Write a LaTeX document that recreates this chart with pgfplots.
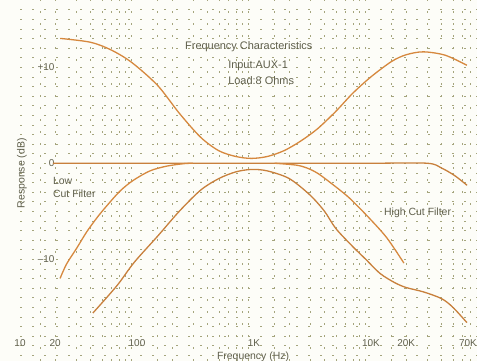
\documentclass[border=0pt]{standalone}
\usepackage{fontspec}
\setmainfont{Liberation Sans}
\usepackage{pgfplots}
\pgfplotsset{compat=1.18}
\definecolor{curve}{RGB}{214,136,62}
\definecolor{curveb}{RGB}{200,128,60}
\definecolor{txt}{RGB}{95,95,75}
\definecolor{gridc}{RGB}{165,165,125}
\definecolor{bg}{RGB}{253,253,248}
\begin{document}
\begin{tikzpicture}
\fill[bg] (-20bp,0) rectangle (457bp,361bp);
\begin{axis}[
  name=ax, at={(0,0)}, anchor=south west,
  scale only axis, width=457bp, height=361bp,
  xmode=log, xmin=10, xmax=80500, ymin=-20.6, ymax=17.0,
  axis line style={draw=none},
  major tick length=0pt, minor tick length=0pt,
  xtick={10,20,100,1000,10000,20000,70000},
  xticklabels={10,20,100,1K,10K,20K,\hspace*{-4bp}70K},
  ytick={-10,0,10},
  yticklabels={--10,0,+10},
  minor xtick={15,20,30,40,50,60,70,80,90,150,200,300,400,500,600,700,800,900,1500,2000,3000,4000,5000,6000,7000,8000,9000,15000,20000,30000,40000,50000,60000,70000},
  minor ytick={-20,-19,...,16},
  grid=minor,
  minor grid style={gridc, line width=0.55bp, dash pattern=on 2bp off 10bp},
  tick label style={font=\fontsize{10}{12}\selectfont, text=txt},
  xticklabel style={anchor=center, yshift=18bp},
  yticklabel style={anchor=east, xshift=38bp},
  ylabel={Response (dB)},
  ylabel style={at={(axis description cs:0.004,0.52)}, anchor=center, font=\fontsize{10.5}{12}\selectfont, text=txt},
  xlabel={Frequency (Hz)},
  xlabel style={at={(axis description cs:0.51,0.012)}, anchor=center, font=\fontsize{10.5}{12}\selectfont, text=txt},
  every axis plot/.append style={line width=1.3bp, smooth},
]
% boost curve
\addplot[curve] coordinates {(22,13.0) (40,12.6) (60,11.8) (90,10.5) (150,8.1) (230,5.2) (350,2.7) (500,1.3) (700,0.7) (950,0.5) (1300,0.7) (1800,1.3) (2500,2.3) (3500,3.6) (5000,5.4) (7000,7.3) (10000,9.0) (15000,10.6) (20000,11.3) (28000,11.6) (43000,11.25) (66000,10.2)};
% flat
\addplot[curveb] coordinates {(19.1,0) (100,0) (1000,0) (10000,0) (30100,0) (40000,-0.5) (52000,-1.3) (66200,-2.3)};
% low cut
\addplot[curve] coordinates {(22,-12.0) (25,-10.5) (30.7,-8.8) (37.4,-7.1) (46,-5.6) (55.5,-4.4) (71.6,-2.9) (92.5,-1.8) (129,-0.8) (180,-0.3) (250,-0.05) (300,0)};
% high cut
\addplot[curve] coordinates {(1500,0) (2300,-0.2) (2838,-0.5) (3500,-1.05) (4467,-2.0) (6500,-3.6) (9800,-5.8) (13700,-7.8) (19100,-10.4)};
% band (both)
\addplot[curveb] coordinates {(42,-15.6) (55,-14.0) (70,-12.5) (95,-10.3) (150,-7.6) (230,-5.0) (350,-2.8) (500,-1.6) (700,-0.9) (950,-0.65) (1300,-0.8) (2000,-1.6) (3000,-3.3) (4000,-5.0) (5000,-6.8) (7000,-8.7) (9000,-10.0) (12000,-11.5) (16000,-12.45) (20000,-12.95) (28000,-13.4) (40000,-14.1) (50000,-15.0) (66000,-16.6)};
\node[anchor=west, text=txt, font=\fontsize{11}{12}\selectfont, inner sep=0] at (axis cs:257,12.1) {Frequency Characteristics};
\node[anchor=west, text=txt, font=\fontsize{11}{12}\selectfont, inner sep=0] at (axis cs:600,10.1) {Input:AUX-1};
\node[anchor=west, text=txt, font=\fontsize{11}{12}\selectfont, inner sep=0] at (axis cs:600,8.6) {Load:8 Ohms};
\node[anchor=west, text=txt, font=\fontsize{10.5}{13}\selectfont, inner sep=0, align=left] at (axis cs:19.1,-2.5) {Low\\Cut Filter};
\node[anchor=west, text=txt, font=\fontsize{10.5}{12}\selectfont, inner sep=0] at (axis cs:12900,-5.2) {High Cut Filter};
\end{axis}
\pgfresetboundingbox
\path[use as bounding box] (-20bp,0) rectangle (457bp,361bp);
\end{tikzpicture}
\end{document}
